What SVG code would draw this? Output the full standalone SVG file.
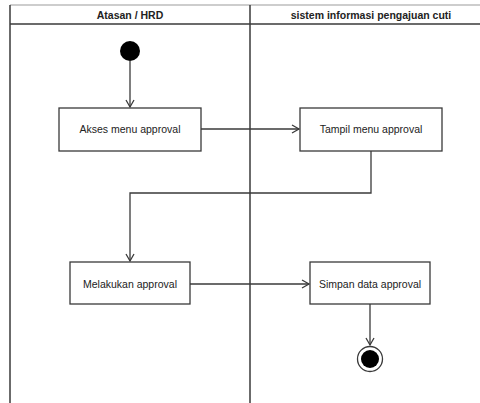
<svg xmlns="http://www.w3.org/2000/svg" width="480" height="403" viewBox="0 0 480 403">
<style>
.frame{stroke:#3a3a3a;stroke-width:1.5;fill:none}
.top{stroke:#bdbdbd;stroke-width:1.5;fill:none}
.box{fill:#fff;stroke:#3a3a3a;stroke-width:1.3}
.conn{stroke:#3a3a3a;stroke-width:1.3;fill:none}
.hdr{font-family:"Liberation Sans",Arial,sans-serif;font-size:10.5px;font-weight:bold;fill:#222;text-anchor:middle}
.lbl{font-family:"Liberation Sans",Arial,sans-serif;font-size:10.5px;fill:#222;text-anchor:middle}
</style>
<defs>
<marker id="arr" markerWidth="10" markerHeight="10" refX="8" refY="5" orient="auto" markerUnits="userSpaceOnUse">
<path d="M1,1 L8,5 L1,9" fill="none" stroke="#3a3a3a" stroke-width="1.3"/>
</marker>
</defs>
<rect width="480" height="403" fill="#fff"/>
<g id="swimlanes">
<line class="top" x1="10" y1="5" x2="480" y2="5"/>
<line class="frame" x1="10" y1="24" x2="480" y2="24"/>
<line class="frame" x1="10" y1="5" x2="10" y2="403"/>
<line class="frame" x1="250" y1="5" x2="250" y2="403"/>
<text class="hdr" x="130" y="19">Atasan / HRD</text>
<text class="hdr" x="371" y="19">sistem informasi pengajuan cuti</text>
</g>
<g id="connectors">
<line class="conn" x1="130" y1="61" x2="130" y2="107" marker-end="url(#arr)"/>
<line class="conn" x1="201" y1="129" x2="299" y2="129" marker-end="url(#arr)"/>
<polyline class="conn" points="371,151 371,193 130,193 130,261" marker-end="url(#arr)"/>
<line class="conn" x1="190" y1="284" x2="309" y2="284" marker-end="url(#arr)"/>
<line class="conn" x1="370" y1="304" x2="370" y2="345" marker-end="url(#arr)"/>
</g>
<g id="start"><circle cx="130" cy="51" r="10" fill="#000"/></g>
<g id="akses">
<rect class="box" x="59" y="108" width="142" height="43"/>
<text class="lbl" x="130" y="133">Akses menu approval</text>
</g>
<g id="tampil">
<rect class="box" x="300" y="108" width="142" height="43"/>
<text class="lbl" x="371" y="133">Tampil menu approval</text>
</g>
<g id="melakukan">
<rect class="box" x="70" y="262" width="120" height="42"/>
<text class="lbl" x="130" y="288">Melakukan approval</text>
</g>
<g id="simpan">
<rect class="box" x="310" y="262" width="120" height="42"/>
<text class="lbl" x="370" y="288">Simpan data approval</text>
</g>
<g id="end">
<circle cx="370" cy="359" r="12.5" fill="#fff" stroke="#3a3a3a" stroke-width="1.3"/>
<circle cx="370" cy="359" r="9" fill="#000"/>
</g>
</svg>
